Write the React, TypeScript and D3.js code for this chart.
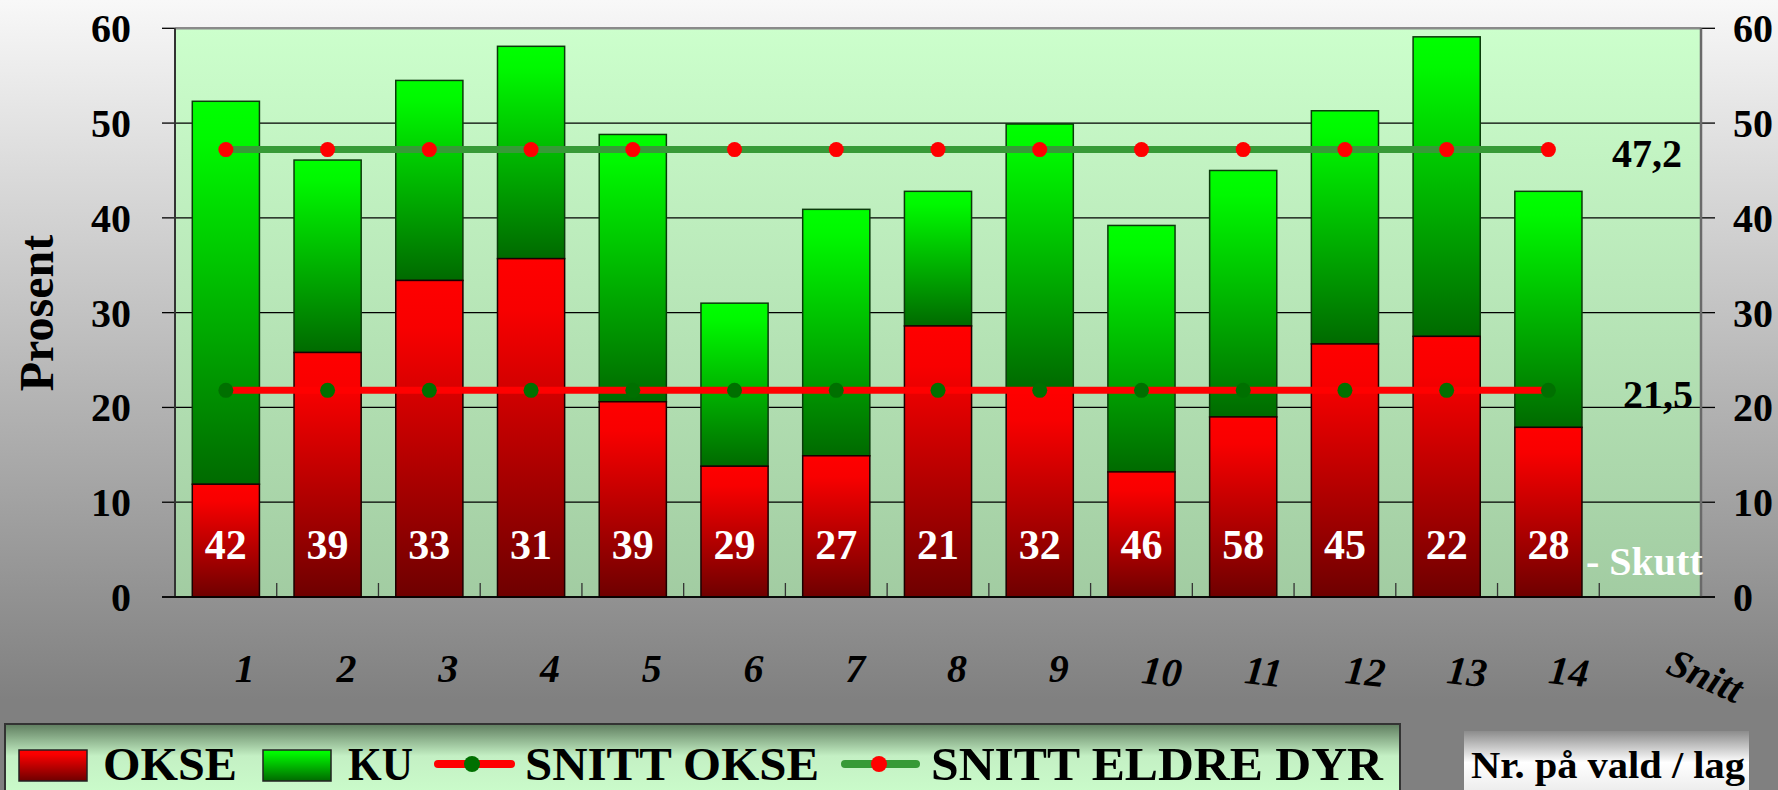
import React from "react";
import * as d3 from "d3";

const categories = ["1", "2", "3", "4", "5", "6", "7", "8", "9", "10", "11", "12", "13", "14", "Snitt"];
const okse = [11.9, 25.8, 33.4, 35.7, 20.6, 13.8, 14.9, 28.6, 22.0, 13.2, 19.0, 26.7, 27.5, 17.9];
const ku = [40.4, 20.3, 21.1, 22.4, 28.2, 17.2, 26.0, 14.2, 27.9, 26.0, 26.0, 24.6, 31.6, 24.9];
const skutt = [42, 39, 33, 31, 39, 29, 27, 21, 32, 46, 58, 45, 22, 28];
const snittOkse = 21.8;
const snittEldre = 47.2;
const snittOkseLabel = "21,5";
const snittEldreLabel = "47,2";
const yTicks = [0, 10, 20, 30, 40, 50, 60];
const legendLabels = ["OKSE", "KU", "SNITT OKSE", "SNITT ELDRE DYR"];

const W = 1778;
const H = 790;
const FONT = "'Liberation Serif', 'Times New Roman', serif";

export default function App() {
  const left = 175;
  const right = 1701;
  const top = 28.3;
  const bottom = 597;

  const x = d3
    .scaleBand<string>()
    .domain(categories)
    .range([left, right])
    .paddingInner(0.34)
    .paddingOuter(0.17);
  const step = x.step();
  const y = d3.scaleLinear().domain([0, 60]).range([bottom, top]);

  const lineCats = categories.slice(0, okse.length);
  const cx = (c: string) => (x(c) as number) + x.bandwidth() / 2;

  const eldrePath = d3
    .line<string>()
    .x((c) => cx(c))
    .y(() => y(snittEldre))(lineCats) as string;
  const oksePath = d3
    .line<string>()
    .x((c) => cx(c))
    .y(() => y(snittOkse))(lineCats) as string;

  const boundaries = d3.range(1, categories.length).map((k) => left + k * step);

  return (
    <div style={{ position: "fixed", left: 0, top: 0, width: W, height: H }}>
      <svg width={W} height={H} style={{ display: "block" }} fontFamily={FONT}>
        <defs>
          <linearGradient id="pageBg" x1="0" y1="0" x2="0" y2="700" gradientUnits="userSpaceOnUse">
            <stop offset="0" stopColor="#f8f8f8" />
            <stop offset="1" stopColor="#808080" />
          </linearGradient>
          <linearGradient id="plotBg" x1="0" y1="0" x2="0" y2="1">
            <stop offset="0" stopColor="#ccffcc" />
            <stop offset="1" stopColor="#a2cca2" />
          </linearGradient>
          <linearGradient id="redGrad" x1="0" y1="0" x2="0" y2="1">
            <stop offset="0" stopColor="#ff0000" />
            <stop offset="0.15" stopColor="#f80000" />
            <stop offset="1" stopColor="#6e0000" />
          </linearGradient>
          <linearGradient id="greenGrad" x1="0" y1="0" x2="0" y2="1">
            <stop offset="0" stopColor="#00ff00" />
            <stop offset="0.1" stopColor="#00f800" />
            <stop offset="1" stopColor="#006a00" />
          </linearGradient>
          <linearGradient id="legendBg" x1="0" y1="0" x2="0" y2="1">
            <stop offset="0" stopColor="#5f7d5f" />
            <stop offset="0.4" stopColor="#c4f0c4" />
            <stop offset="1" stopColor="#ccffcc" />
          </linearGradient>
          <linearGradient id="nrBg" x1="0" y1="0" x2="0" y2="1">
            <stop offset="0" stopColor="#8c8c8c" />
            <stop offset="0.45" stopColor="#ffffff" />
            <stop offset="1" stopColor="#e6e6e6" />
          </linearGradient>
        </defs>

        <rect x={0} y={0} width={W} height={H} fill="url(#pageBg)" />

        <rect x={left} y={top} width={right - left} height={bottom - top} fill="url(#plotBg)" />

        {yTicks.map((t) => (
          <line key={"g" + t} x1={left} x2={right} y1={y(t)} y2={y(t)} stroke="#000" strokeWidth={1.3} />
        ))}
        {yTicks.map((t) => (
          <g key={"t" + t}>
            <line x1={left - 13} x2={left} y1={y(t)} y2={y(t)} stroke="#000" strokeWidth={1.3} />
            <line x1={right} x2={right + 14} y1={y(t)} y2={y(t)} stroke="#000" strokeWidth={1.3} />
          </g>
        ))}

        {boundaries.map((bx, i) => (
          <line key={"b" + i} x1={bx} x2={bx} y1={bottom} y2={bottom - 14} stroke="#333" strokeWidth={1.3} />
        ))}

        <line x1={left} x2={right} y1={top} y2={top} stroke="#8a8a8a" strokeWidth={2.5} />
        <line x1={right} x2={right} y1={top} y2={bottom} stroke="#6a6a6a" strokeWidth={2.5} />
        <line x1={left} x2={left} y1={top} y2={bottom} stroke="#333" strokeWidth={2} />

        {okse.map((v, i) => {
          const c = categories[i];
          const bx = x(c) as number;
          const bw = x.bandwidth();
          const yOk = y(v);
          const yTot = y(v + ku[i]);
          return (
            <g key={"bar" + i}>
              <rect x={bx} y={yTot} width={bw} height={yOk - yTot} fill="url(#greenGrad)" stroke="#0b3b0b" strokeWidth={1.5} />
              <rect x={bx} y={yOk} width={bw} height={bottom - yOk} fill="url(#redGrad)" stroke="#1a0000" strokeWidth={1.5} />
            </g>
          );
        })}

        <line x1={left - 13} x2={right + 14} y1={bottom} y2={bottom} stroke="#000" strokeWidth={1.5} />

        <path d={eldrePath} stroke="#379a37" strokeWidth={7} fill="none" />
        {lineCats.map((c) => (
          <circle key={"e" + c} cx={cx(c)} cy={y(snittEldre)} r={7.5} fill="#ff0000" />
        ))}
        <path d={oksePath} stroke="#ff0000" strokeWidth={7} fill="none" />
        {lineCats.map((c) => (
          <circle key={"o" + c} cx={cx(c)} cy={y(snittOkse)} r={7.5} fill="#007000" />
        ))}

        <text x={1682} y={y(snittEldre) + 17} textAnchor="end" fontWeight="bold" fontSize={40} fill="#000">
          {snittEldreLabel}
        </text>
        <text x={1693} y={y(snittOkse) + 18} textAnchor="end" fontWeight="bold" fontSize={40} fill="#000">
          {snittOkseLabel}
        </text>

        {skutt.map((s, i) => (
          <text
            key={"s" + i}
            x={cx(categories[i])}
            y={559}
            textAnchor="middle"
            fontWeight="bold"
            fontSize={42}
            fill="#fff"
          >
            {s}
          </text>
        ))}
        <text x={1586} y={575} fontWeight="bold" fontSize={40} fill="#fff">
          - Skutt
        </text>

        {yTicks.map((t) => (
          <g key={"yl" + t}>
            <text x={131} y={y(t)} dy="0.35em" textAnchor="end" fontWeight="bold" fontSize={40} fill="#000">
              {t}
            </text>
            <text x={1733} y={y(t)} dy="0.35em" textAnchor="start" fontWeight="bold" fontSize={40} fill="#000">
              {t}
            </text>
          </g>
        ))}

        <text
          transform={`translate(53,313) rotate(-90)`}
          textAnchor="middle"
          fontWeight="bold"
          fontSize={48}
          fill="#000"
        >
          Prosent
        </text>

        {categories.map((c, i) => {
          const px = cx(c) + 19;
          if (c === "Snitt") {
            return (
              <text
                key={"xl" + c}
                transform={`translate(1700,688) rotate(24)`}
                textAnchor="middle"
                fontWeight="bold"
                fontStyle="italic"
                fontSize={40}
                fill="#000"
              >
                {c}
              </text>
            );
          }
          const rot = i >= 9 ? 6 : 0;
          const py = i >= 9 ? 685 : 682;
          return (
            <text
              key={"xl" + c}
              transform={`translate(${px},${py}) rotate(${rot})`}
              textAnchor="middle"
              fontWeight="bold"
              fontStyle="italic"
              fontSize={40}
              fill="#000"
            >
              {c}
            </text>
          );
        })}

        <rect x={5} y={724} width={1395} height={80} fill="url(#legendBg)" stroke="#333" strokeWidth={2} />
        <rect x={19} y={750} width={68} height={31} fill="url(#redGrad)" stroke="#222" strokeWidth={1.5} />
        <text x={103} y={780} fontWeight="bold" fontSize={47} fill="#000" textLength={134} lengthAdjust="spacingAndGlyphs">
          {legendLabels[0]}
        </text>
        <rect x={263} y={750} width={68} height={31} fill="url(#greenGrad)" stroke="#222" strokeWidth={1.5} />
        <text x={348} y={780} fontWeight="bold" fontSize={47} fill="#000" textLength={65} lengthAdjust="spacingAndGlyphs">
          {legendLabels[1]}
        </text>
        <line x1={438} x2={511} y1={764} y2={764} stroke="#ff0000" strokeWidth={8} strokeLinecap="round" />
        <circle cx={472} cy={764} r={8} fill="#007000" />
        <text x={525} y={780} fontWeight="bold" fontSize={47} fill="#000" textLength={294} lengthAdjust="spacingAndGlyphs">
          {legendLabels[2]}
        </text>
        <line x1={845} x2={916} y1={764} y2={764} stroke="#379a37" strokeWidth={8} strokeLinecap="round" />
        <circle cx={879} cy={764} r={8} fill="#ff0000" />
        <text x={931} y={780} fontWeight="bold" fontSize={47} fill="#000" textLength={452} lengthAdjust="spacingAndGlyphs">
          {legendLabels[3]}
        </text>

        <rect x={1464} y={731} width={285} height={70} fill="url(#nrBg)" />
        <text x={1471} y={778} fontWeight="bold" fontSize={38} fill="#000" textLength={274} lengthAdjust="spacingAndGlyphs">
          Nr. på vald / lag
        </text>
      </svg>
    </div>
  );
}
